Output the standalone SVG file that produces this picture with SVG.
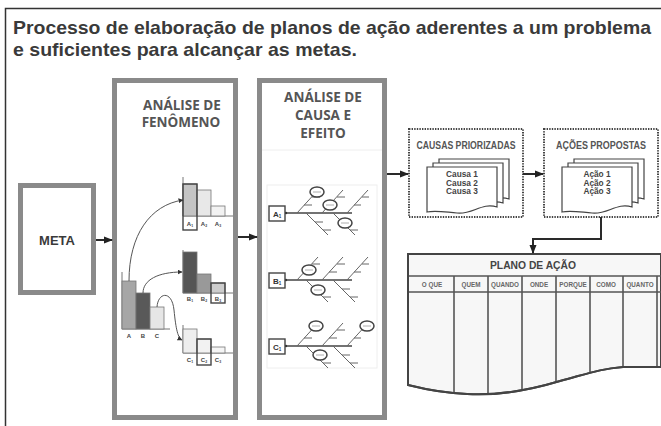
<svg xmlns="http://www.w3.org/2000/svg" width="661" height="426" viewBox="0 0 661 426">
<defs>
<style>
.frame{fill:none;stroke:#333;stroke-width:1.5}
.title{font-family:"Liberation Sans",Arial,sans-serif;font-weight:bold;font-size:19px;fill:#3a3a3a}
.box{fill:#fff;stroke:#8a8a8a;stroke-width:5}
.btitle{font-family:"Open Sans","Liberation Sans",sans-serif;font-weight:bold;font-size:13.5px;fill:#555;text-anchor:middle}
.conn{fill:none;stroke:#2a2a2a;stroke-width:2}
.curve{fill:none;stroke:#555;stroke-width:1}
.bar{stroke:#777;stroke-width:0.8}
.axis{fill:none;stroke:#777;stroke-width:1}
.hl{fill:none;stroke:#444;stroke-width:1.4}
.lbl{font-family:"Liberation Sans",Arial,sans-serif;font-weight:bold;font-size:6px;fill:#444;text-anchor:middle}
.bone{fill:none;stroke:#666;stroke-width:1}
.spine{fill:none;stroke:#444;stroke-width:1.6}
.ell{fill:#fff;stroke:#444;stroke-width:1.5}
.ellin{stroke:#999;stroke-width:0.8}
.fbox{fill:#fff;stroke:#444;stroke-width:1.4}
.fl{font-family:"Liberation Sans",Arial,sans-serif;font-weight:bold;font-size:8px;fill:#333}
.dot{fill:#fff;stroke:#444;stroke-width:2;stroke-dasharray:1.4 1.2}
.stitle{font-family:"Liberation Sans",Arial,sans-serif;font-weight:bold;font-size:10px;fill:#555;text-anchor:middle}
.page{fill:#fff;stroke:#444;stroke-width:1.2}
.ptxt{font-family:"Liberation Sans",Arial,sans-serif;font-weight:bold;font-size:8.3px;fill:#444;text-anchor:middle}
.tbl{fill:#f7f7f7;stroke:#444;stroke-width:2}
.tline{stroke:#555;stroke-width:1.6}
.ttitle{font-family:"Liberation Sans",Arial,sans-serif;font-weight:bold;font-size:11.5px;fill:#444;text-anchor:middle}
.th{font-family:"Liberation Sans",Arial,sans-serif;font-weight:bold;font-size:6.3px;fill:#666;text-anchor:middle}
.faint{fill:none;stroke:#eee;stroke-width:1}
</style>
<marker id="ah" markerWidth="9" markerHeight="8" refX="8" refY="4" orient="auto" markerUnits="userSpaceOnUse"><path d="M0,0.5 L9,4 L0,7.5 Z" fill="#222"/></marker>
<marker id="ahs" markerWidth="5" markerHeight="5" refX="4.5" refY="2.5" orient="auto" markerUnits="userSpaceOnUse"><path d="M0,0 L5,2.5 L0,5 Z" fill="#333"/></marker>
<g id="fb">
<path class="spine" d="M285,0 H352"/>
<circle cx="286" cy="0" r="1.2" fill="#333"/>
<path class="bone" d="M297,0 L318,-23 M322,0 L343,-23 M347,0 L368,-23 M306,0 L328,22 M333,0 L355,22"/>
<path class="bone" d="M304,-8 h8 M312,-16 h8 M329,-8 h8 M337,-16 h8 M354,-8 h7 M362,-16 h7 M315,9 h8 M323,17 h8 M342,9 h8 M350,17 h8"/>
</g>
<g id="doc">
<path class="page" transform="translate(12,-8)" d="M0,0 H70 V40 C55,35 45,48 30,46 C18,45 8,43 0,45 Z"/>
<path class="page" transform="translate(6,-4)" d="M0,0 H70 V40 C55,35 45,48 30,46 C18,45 8,43 0,45 Z"/>
<path class="page" d="M0,0 H70 V40 C55,35 45,48 30,46 C18,45 8,43 0,45 Z"/>
</g>
<clipPath id="tclip"><path d="M408,254 H661 V367 L623,367 C600,369 590,373 560,381 C530,390 500,396 467,394 C440,393 420,388 408,385 Z"/></clipPath>
</defs>

<path class="frame" d="M5.5,426 V8.5 H661"/>
<text class="title" x="13" y="34" textLength="638" lengthAdjust="spacingAndGlyphs">Processo de elaboração de planos de ação aderentes a um problema</text>
<text class="title" x="13" y="56" textLength="344" lengthAdjust="spacingAndGlyphs">e suficientes para alcançar as metas.</text>

<g id="meta">
<rect class="box" x="20.5" y="185.5" width="73" height="107"/>
<text x="57" y="245" font-family="Liberation Sans, Arial, sans-serif" font-weight="bold" font-size="13" fill="#3a3a3a" text-anchor="middle">META</text>
</g>

<g id="fenomeno">
<rect class="box" x="114.5" y="80.5" width="121" height="337"/>
<text class="btitle" x="182" y="110">ANÁLISE DE</text>
<text class="btitle" x="181" y="127">FENÔMENO</text>
<path class="axis" d="M122,272 V329 H170"/>
<rect class="bar" x="122" y="281" width="14" height="48" fill="#a6a6a6"/>
<rect class="bar" x="136" y="293" width="14" height="36" fill="#595959"/>
<rect class="bar" x="150" y="307" width="14" height="22" fill="#e6e6e6"/>
<text class="lbl" x="129" y="338">A</text>
<text class="lbl" x="143" y="338">B</text>
<text class="lbl" x="157" y="338">C</text>
<path class="axis" d="M183,177 V216 H233"/>
<rect class="bar" x="183" y="184" width="14" height="32" fill="#c4c4c4"/>
<rect class="bar" x="197" y="190" width="14" height="26" fill="#e8e8e8"/>
<rect class="bar" x="211" y="206" width="14" height="10" fill="#f2f2f2"/>
<rect class="hl" x="183" y="184" width="14" height="46"/>
<text class="lbl" x="190" y="226">A<tspan font-size="3.5" dy="1">1</tspan></text>
<text class="lbl" x="204" y="226">A<tspan font-size="3.5" dy="1">2</tspan></text>
<text class="lbl" x="218" y="226">A<tspan font-size="3.5" dy="1">3</tspan></text>
<path class="axis" d="M183,250 V293 H233"/>
<rect class="bar" x="183" y="252" width="14" height="41" fill="#555"/>
<rect class="bar" x="197" y="274" width="14" height="19" fill="#999"/>
<rect class="bar" x="211" y="283" width="14" height="10" fill="#ccc"/>
<rect class="hl" x="211" y="283" width="14" height="20"/>
<text class="lbl" x="190" y="301">B<tspan font-size="3.5" dy="1">1</tspan></text>
<text class="lbl" x="204" y="301">B<tspan font-size="3.5" dy="1">2</tspan></text>
<text class="lbl" x="218" y="301">B<tspan font-size="3.5" dy="1">3</tspan></text>
<path class="axis" d="M183,325 V353 H233"/>
<rect class="bar" x="183" y="329" width="14" height="24" fill="#eee"/>
<rect class="bar" x="197" y="339" width="14" height="14" fill="#f2f2f2"/>
<rect class="bar" x="211" y="347" width="14" height="6" fill="#f5f5f5"/>
<rect class="hl" x="197" y="339" width="14" height="26"/>
<text class="lbl" x="190" y="362">C<tspan font-size="3.5" dy="1">1</tspan></text>
<text class="lbl" x="204" y="362">C<tspan font-size="3.5" dy="1">2</tspan></text>
<text class="lbl" x="218" y="362">C<tspan font-size="3.5" dy="1">3</tspan></text>
<path class="curve" marker-end="url(#ahs)" d="M129,281 C129,235 150,205 183,200"/>
<path class="curve" marker-end="url(#ahs)" d="M143,293 C143,280 158,272 182,272"/>
<path class="curve" marker-end="url(#ahs)" d="M157,307 C158,292 172,290 174,310 C176,330 178,338 182,340"/>
</g>

<g id="causa-efeito">
<rect class="box" x="259.5" y="80.5" width="125" height="337"/>
<text class="btitle" x="323" y="102">ANÁLISE DE</text>
<text class="btitle" x="323" y="120">CAUSA E</text>
<text class="btitle" x="323" y="138">EFEITO</text>
<path class="faint" d="M262,150 H382"/>
<rect class="faint" x="267" y="185" width="110" height="183"/>
<use href="#fb" transform="translate(0,213)"/>
<rect class="fbox" x="269" y="206" width="16" height="15"/>
<text class="fl" x="273" y="217">A<tspan font-size="4.5" dy="1">1</tspan></text>
<ellipse class="ell" cx="317" cy="192" rx="7" ry="5"/><path class="ellin" d="M313,192 h8"/>
<ellipse class="ell" cx="330" cy="205" rx="7" ry="5"/><path class="ellin" d="M326,205 h8"/>
<ellipse class="ell" cx="345" cy="223" rx="7" ry="5"/><path class="ellin" d="M341,223 h8"/>
<use href="#fb" transform="translate(0,280)"/>
<rect class="fbox" x="269" y="273" width="16" height="15"/>
<text class="fl" x="273" y="284">B<tspan font-size="4.5" dy="1">1</tspan></text>
<ellipse class="ell" cx="309" cy="270" rx="7" ry="5"/><path class="ellin" d="M305,270 h8"/>
<ellipse class="ell" cx="318" cy="290" rx="7" ry="5"/><path class="ellin" d="M314,290 h8"/>
<use href="#fb" transform="translate(0,346)"/>
<rect class="fbox" x="269" y="339" width="16" height="15"/>
<text class="fl" x="273" y="350">C<tspan font-size="4.5" dy="1">1</tspan></text>
<ellipse class="ell" cx="316" cy="326" rx="7" ry="5"/><path class="ellin" d="M312,326 h8"/>
<ellipse class="ell" cx="320" cy="355" rx="7" ry="5"/><path class="ellin" d="M316,355 h8"/>
<ellipse class="ell" cx="367" cy="326" rx="7" ry="5"/><path class="ellin" d="M363,326 h8"/>
</g>

<g id="causas">
<rect class="dot" x="409" y="129" width="114" height="88"/>
<text class="stitle" x="466" y="149" textLength="99" lengthAdjust="spacingAndGlyphs">CAUSAS PRIORIZADAS</text>
<use href="#doc" transform="translate(427,167)"/>
<text class="ptxt" x="462" y="177">Causa 1</text>
<text class="ptxt" x="462" y="185.5">Causa 2</text>
<text class="ptxt" x="462" y="194">Causa 3</text>
</g>

<g id="acoes">
<rect class="dot" x="544" y="129" width="114" height="88"/>
<text class="stitle" x="601" y="149" textLength="90" lengthAdjust="spacingAndGlyphs">AÇÕES PROPOSTAS</text>
<use href="#doc" transform="translate(562,167)"/>
<text class="ptxt" x="597" y="177">Ação 1</text>
<text class="ptxt" x="597" y="185.5">Ação 2</text>
<text class="ptxt" x="597" y="194">Ação 3</text>
</g>

<g id="plano">
<path class="tbl" d="M408,254 H661 V367 L623,367 C600,369 590,373 560,381 C530,390 500,396 467,394 C440,393 420,388 408,385 Z"/>
<path class="tline" d="M408,276 H661 M408,292 H661"/>
<g clip-path="url(#tclip)">
<path class="tline" d="M454,276 V400 M488,276 V400 M522,276 V400 M556,276 V400 M590,276 V400 M623,276 V400 M657,276 V400"/>
</g>
<path fill="none" stroke="#444" stroke-width="2" d="M408,254 H661 M408,254 V385 C420,388 440,393 467,394 C500,396 530,390 560,381 C590,373 600,369 623,367 L661,367"/>
<text class="ttitle" x="533" y="269" textLength="86" lengthAdjust="spacingAndGlyphs">PLANO DE AÇÃO</text>
<text class="th" x="432" y="286.5">O QUE</text>
<text class="th" x="471" y="286.5">QUEM</text>
<text class="th" x="505" y="286.5">QUANDO</text>
<text class="th" x="539" y="286.5">ONDE</text>
<text class="th" x="573" y="286.5">PORQUE</text>
<text class="th" x="606" y="286.5">COMO</text>
<text class="th" x="640" y="286.5">QUANTO</text>
</g>

<g id="connectors">
<line class="conn" x1="96" y1="240" x2="112" y2="240" marker-end="url(#ah)"/>
<line class="conn" x1="238" y1="237" x2="257" y2="237" marker-end="url(#ah)"/>
<line class="conn" x1="387" y1="174" x2="408" y2="174" marker-end="url(#ah)"/>
<line class="conn" x1="523" y1="174" x2="543" y2="174" marker-end="url(#ah)"/>
<polyline class="conn" points="601,217 601,239 533,239 533,253" marker-end="url(#ah)"/>
</g>
</svg>
